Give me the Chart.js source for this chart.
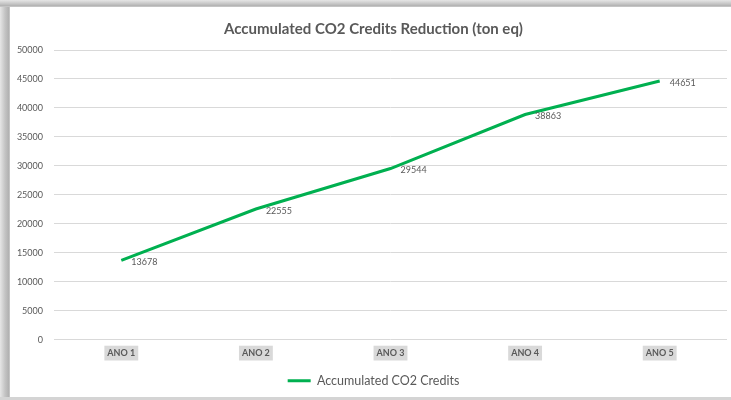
<!DOCTYPE html>
<html>
<head>
<meta charset="utf-8">
<script src="https://cdn.jsdelivr.net/npm/chart.js@4"></script>
<style>
  html, body { margin: 0; padding: 0; }
  body { width: 731px; height: 400px; background: #ffffff; position: relative; overflow: hidden; }
  #frameLeft { position: absolute; left: 0; top: 0; width: 10px; height: 400px;
    background: linear-gradient(to right, #e6e6e6 0px, #c4c4c4 5px, #b0b0b0 9px, #d8d8d8 10px); }
  #frameTop { position: absolute; left: 0; top: 0; width: 731px; height: 7px;
    background: linear-gradient(to bottom, #e6e6e6 0px, #c4c4c4 4px, #b0b0b0 6px, #d8d8d8 7px); }
  #frameBottom { position: absolute; left: 0; top: 397px; width: 731px; height: 3px; background: #d4d4d4; }
  #wrap { position: absolute; left: 10px; top: 7px; width: 721px; height: 390px; background: #fff; }
</style>
</head>
<body>
<div id="frameLeft"></div>
<div id="frameTop"></div>
<div id="frameBottom"></div>
<div id="wrap"><canvas id="c" width="721" height="390"></canvas></div>
<script>
const categories = ["ANO 1", "ANO 2", "ANO 3", "ANO 4", "ANO 5"];
const creditValues = [13678, 22555, 29544, 38863, 44651];
const seriesName = "Accumulated CO2 Credits";
const chartTitle = "Accumulated CO2 Credits Reduction (ton eq)";
const yTicks = [0, 5000, 10000, 15000, 20000, 25000, 30000, 35000, 40000, 45000, 50000];

const FONT = "Lato, 'Liberation Sans', sans-serif";
const TXT = "#595959";

const dataLabels = {
  id: 'dataLabels',
  afterDatasetsDraw(chart) {
    const ctx = chart.ctx;
    const meta = chart.getDatasetMeta(0);
    ctx.save();
    ctx.font = "9px " + FONT;
    ctx.fillStyle = TXT;
    ctx.textAlign = 'left';
    ctx.textBaseline = 'middle';
    meta.data.forEach((pt, i) => {
      ctx.fillText(String(chart.data.datasets[0].data[i]), pt.x + 10, pt.y + 2);
    });
    ctx.restore();
  }
};

// let the y-axis labels use the left padding area (avoid label clipping)
const widenYAxisBox = {
  id: 'widenYAxisBox',
  afterLayout(chart) {
    if (chart.scales.y) chart.scales.y.left = 0;
  }
};

new Chart(document.getElementById('c'), {
  type: 'line',
  data: {
    labels: categories,
    datasets: [{
      label: seriesName,
      data: creditValues,
      borderColor: '#00b050',
      backgroundColor: '#00b050',
      borderWidth: 3,
      pointRadius: 0,
      tension: 0
    }]
  },
  options: {
    responsive: false,
    animation: false,
    layout: { padding: { left: 10, right: 4, top: 0, bottom: 0 } },
    plugins: {
      title: {
        display: true,
        text: chartTitle,
        color: TXT,
        font: { family: FONT, size: 15, weight: 'bold' },
        padding: { top: 13, bottom: 12 }
      },
      legend: {
        position: 'bottom',
        labels: {
          color: TXT,
          font: { family: FONT, size: 12.5 },
          boxWidth: 23,
          boxHeight: 3,
          padding: 8,
          generateLabels(chart) {
            return Chart.defaults.plugins.legend.labels.generateLabels(chart).map(it => Object.assign(it, { lineWidth: 0, fillStyle: '#00b050' }));
          }
        }
      },
      tooltip: { enabled: false }
    },
    scales: {
      x: {
        offset: true,
        grid: { display: false, drawTicks: false },
        border: { display: false },
        ticks: {
          color: TXT,
          font: { family: FONT, size: 9, weight: 'bold' },
          padding: 8,
          showLabelBackdrop: true,
          backdropColor: '#d9d9d9',
          backdropPadding: { top: 2, bottom: 2, left: 3, right: 3 },
          maxRotation: 0
        }
      },
      y: {
        min: 0,
        max: 50000,
        afterBuildTicks(scale) { scale.ticks = yTicks.map(v => ({ value: v })); },
        afterFit(scale) { scale.width = 34; },
        grid: { color: '#d9d9d9', lineWidth: 1, drawTicks: false },
        border: { display: false },
        ticks: {
          color: TXT,
          font: { family: FONT, size: 9 },
          padding: 11,
          callback: v => String(v)
        }
      }
    }
  },
  plugins: [dataLabels, widenYAxisBox]
});
</script>
</body>
</html>
